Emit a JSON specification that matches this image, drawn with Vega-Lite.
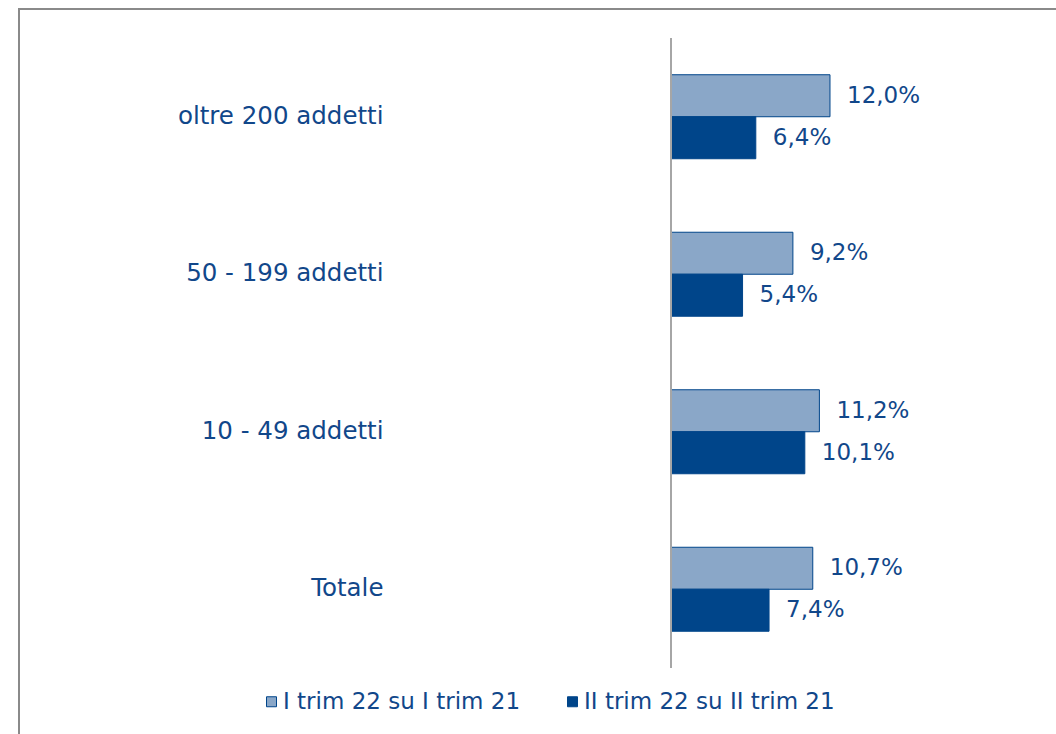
{
  "$schema": "https://vega.github.io/schema/vega-lite/v6.json",
  "width": 1037,
  "height": 725,
  "autosize": {"type": "none"},
  "padding": {"left": 19, "top": 9, "right": 0, "bottom": 0},
  "background": "white",
  "config": {
    "font": "DejaVu Sans",
    "locale": {"number": {"decimal": ",", "thousands": ".", "grouping": [3], "currency": ["€", ""]}},
    "view": {"stroke": "#8a8a8a", "strokeWidth": 2, "strokeDash": [1037, 1762, 725]}
  },
  "data": {
    "values": [
      {"cat": "oltre 200 addetti", "serie": "I trim 22 su I trim 21", "v": 0.120},
      {"cat": "oltre 200 addetti", "serie": "II trim 22 su II trim 21", "v": 0.064},
      {"cat": "50 - 199 addetti", "serie": "I trim 22 su I trim 21", "v": 0.092},
      {"cat": "50 - 199 addetti", "serie": "II trim 22 su II trim 21", "v": 0.054},
      {"cat": "10 - 49 addetti", "serie": "I trim 22 su I trim 21", "v": 0.112},
      {"cat": "10 - 49 addetti", "serie": "II trim 22 su II trim 21", "v": 0.101},
      {"cat": "Totale", "serie": "I trim 22 su I trim 21", "v": 0.107},
      {"cat": "Totale", "serie": "II trim 22 su II trim 21", "v": 0.074}
    ]
  },
  "layer": [
    {
      "mark": {"type": "bar", "stroke": "#00458a", "strokeWidth": 1},
      "encoding": {
        "y": {
          "field": "cat", "type": "nominal",
          "scale": {"domain": ["oltre 200 addetti", "50 - 199 addetti", "10 - 49 addetti", "Totale"], "range": [29, 659], "paddingInner": 0.4667, "paddingOuter": 0.2333},
          "axis": {"orient": "left", "offset": -364, "labelPadding": 0, "ticks": false, "domain": false, "title": null, "labelFontSize": 24.5, "labelColor": "#11478a", "labelFont": "DejaVu Sans", "labelLimit": 500}
        },
        "yOffset": {"field": "serie", "type": "nominal", "scale": {"domain": ["I trim 22 su I trim 21", "II trim 22 su II trim 21"], "paddingInner": 0, "paddingOuter": 0}},
        "x": {"field": "v", "type": "quantitative", "scale": {"domain": [-0.49208, 0.29057], "nice": false, "zero": false}, "axis": null},
        "x2": {"datum": 0},
        "color": {
          "field": "serie", "type": "nominal",
          "scale": {"domain": ["I trim 22 su I trim 21", "II trim 22 su II trim 21"], "range": ["#8aa7c8", "#00458a"]},
          "legend": {
            "title": null, "orient": "none", "legendX": 241, "legendY": 681, "direction": "horizontal",
            "symbolType": "square", "symbolSize": 100, "symbolStrokeColor": "#00458a", "symbolStrokeWidth": 1,
            "labelFontSize": 23, "labelColor": "#11478a", "labelFont": "DejaVu Sans", "labelOffset": 0, "columnPadding": 40, "labelLimit": 400
          }
        }
      }
    },
    {
      "mark": {"type": "text", "align": "left", "baseline": "middle", "dx": 17, "fontSize": 23, "color": "#11478a"},
      "encoding": {
        "y": {"field": "cat", "type": "nominal", "scale": {"domain": ["oltre 200 addetti", "50 - 199 addetti", "10 - 49 addetti", "Totale"], "range": [29, 659], "paddingInner": 0.4667, "paddingOuter": 0.2333}, "axis": null},
        "yOffset": {"field": "serie", "type": "nominal", "scale": {"type": "point", "domain": ["I trim 22 su I trim 21", "II trim 22 su II trim 21"], "padding": 0.5}},
        "x": {"field": "v", "type": "quantitative", "scale": {"domain": [-0.49208, 0.29057], "nice": false, "zero": false}, "axis": null},
        "text": {"field": "v", "type": "quantitative", "format": ".1%"}
      }
    },
    {
      "mark": {"type": "rule", "color": "#a6a6a6", "strokeWidth": 2},
      "encoding": {
        "x": {"datum": 0, "type": "quantitative", "scale": {"domain": [-0.49208, 0.29057], "nice": false, "zero": false}, "axis": null},
        "y": {"datum": 0, "type": "quantitative", "scale": {"domain": [0, 1], "range": [29, 659], "nice": false, "zero": false}, "axis": null},
        "y2": {"datum": 1}
      }
    }
  ],
  "resolve": {"scale": {"y": "independent", "yOffset": "independent"}}
}
